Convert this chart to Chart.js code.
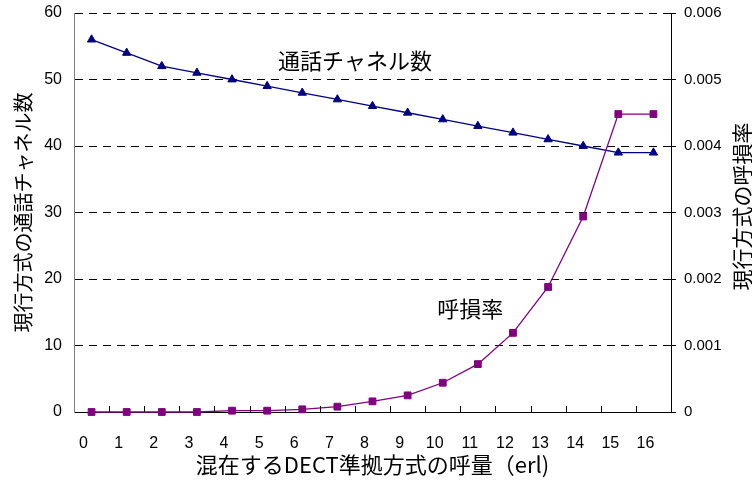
<!DOCTYPE html>
<html><head><meta charset="utf-8">
<script src="https://cdn.jsdelivr.net/npm/chart.js@4"></script>
<style>html,body{margin:0;padding:0;background:#fff}#wrap{width:752px;height:483px}</style>
</head><body><div id="wrap"><canvas id="c" width="752" height="483"></canvas></div>
<script>
const categories = ['0','1','2','3','4','5','6','7','8','9','10','11','12','13','14','15','16'];
const channelCounts = [56,54,52,51,50,49,48,47,46,45,44,43,42,41,40,39,39];
const blockingRates = [0,0,0,0,0.00002,0.00002,0.00004,0.00008,0.00016,0.00025,0.00044,0.00072,0.00119,0.00188,0.00294,0.00448,0.00448];
const leftTicks = [0,10,20,30,40,50,60];
const rightTicks = [0,0.001,0.002,0.003,0.004,0.005,0.006];

const JP = '"Noto Sans CJK JP", sans-serif';
const NUM = '"Liberation Sans Narrow", "Liberation Sans", sans-serif';

const extras = {
  id: 'extras',
  afterDraw(chart) {
    const ctx = chart.ctx;
    const x = chart.scales.x, y = chart.scales.y, y1 = chart.scales.y1;
    ctx.save();
    // inner tick marks on x axis at category boundaries
    ctx.strokeStyle = '#000';
    ctx.lineWidth = 1;
    for (let i = 1; i < categories.length; i++) {
      const px = Math.round((x.getPixelForValue(i - 1) + x.getPixelForValue(i)) / 2) + 0.5;
      ctx.beginPath();
      ctx.moveTo(px, y.bottom);
      ctx.lineTo(px, y.bottom - 6);
      ctx.stroke();
    }
    // annotations
    ctx.fillStyle = '#000';
    ctx.font = '22px ' + JP;
    ctx.textAlign = 'center';
    ctx.textBaseline = 'middle';
    ctx.fillText('通話チャネル数', x.getPixelForValue(7.5), y.getPixelForValue(52.9));
    ctx.fillText('呼損率', x.getPixelForValue(10.78), y1.getPixelForValue(0.00156));
    // right axis title (reads bottom to top)
    ctx.font = '21px ' + JP;
    ctx.translate(742, (y1.top + y1.bottom) / 2 - 6);
    ctx.rotate(-Math.PI / 2);
    ctx.fillText('現行方式の呼損率', 0, 0);
    ctx.restore();
  }
};

new Chart(document.getElementById('c'), {
  type: 'line',
  data: {
    labels: categories,
    datasets: [
      {
        label: '呼損率',
        data: blockingRates,
        yAxisID: 'y1',
        borderColor: '#800080',
        backgroundColor: '#800080',
        borderWidth: 1.3,
        pointStyle: 'rect',
        pointRadius: 4.8,
        pointBorderWidth: 1,
        tension: 0,
        clip: false
      },
      {
        label: '通話チャネル数',
        data: channelCounts,
        yAxisID: 'y',
        borderColor: '#000080',
        backgroundColor: '#000080',
        borderWidth: 1.3,
        pointStyle: 'triangle',
        pointRadius: 4.8,
        pointBorderWidth: 1,
        tension: 0,
        clip: false
      }
    ]
  },
  options: {
    responsive: false,
    animation: false,
    devicePixelRatio: 1,
    layout: { padding: { top: 13, left: 0, right: 0, bottom: 0 } },
    plugins: { legend: { display: false }, tooltip: { enabled: false } },
    scales: {
      x: {
        type: 'category',
        offset: true,
        grid: { display: false },
        border: { display: true, color: '#000', width: 1 },
        ticks: { color: '#000', font: { family: NUM, size: 16 }, padding: 14, labelOffset: -8, maxRotation: 0, autoSkip: false },
        title: { display: true, text: '混在するDECT準拠方式の呼量（erl)', color: '#000', font: { family: JP, size: 22 }, padding: { top: 0, bottom: 5 } },
        afterFit(s) { s.height = 71; s.paddingLeft = 0; s.paddingRight = 0; }
      },
      y: {
        position: 'left',
        min: 0, max: 60,
        afterBuildTicks(s) { s.ticks = leftTicks.map(v => ({ value: v })); },
        grid: {
          color: c => (c.tick && c.tick.value === 0) ? 'rgba(0,0,0,0)' : '#000',
          lineWidth: 1,
          drawTicks: false
        },
        border: { display: true, color: '#808080', width: 1, dash: [8, 6] },
        ticks: { color: '#000', font: { family: NUM, size: 16 }, padding: 12 },
        title: { display: true, text: '現行方式の通話チャネル数', color: '#000', font: { family: JP, size: 20 }, padding: { top: 11, bottom: 0 } },
        afterFit(s) { s.width = 74; s.paddingTop = 0; s.paddingBottom = 0; }
      },
      y1: {
        position: 'right',
        min: 0, max: 0.006,
        afterBuildTicks(s) { s.ticks = rightTicks.map(v => ({ value: v })); },
        grid: { drawOnChartArea: false, drawTicks: true, tickLength: 5, color: '#000' },
        border: { display: true, color: '#000', width: 1 },
        ticks: { color: '#000', font: { family: '"Liberation Sans", sans-serif', size: 15 }, padding: 8,
          callback: v => v === 0 ? '0' : v.toFixed(3) },
        afterFit(s) { s.width = 81; s.paddingTop = 0; s.paddingBottom = 0; }
      }
    }
  },
  plugins: [extras]
});
</script>
</body></html>
